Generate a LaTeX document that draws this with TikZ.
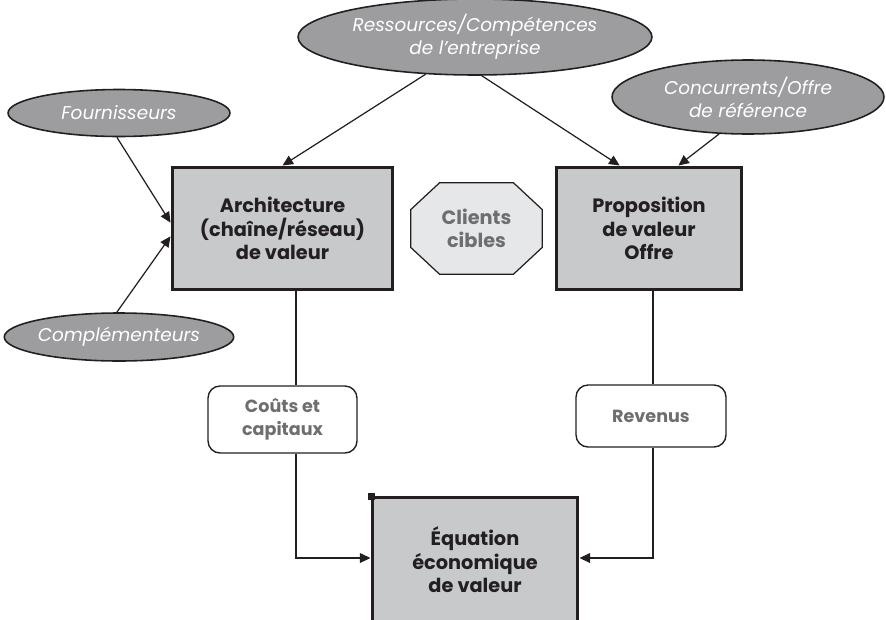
\documentclass[tikz,border=0pt]{standalone}
\usepackage{fontspec}
\setmainfont{Poppins}
\usetikzlibrary{arrows.meta,positioning,shapes.geometric,shapes.misc,calc}
\definecolor{ink}{RGB}{35,31,32}
\definecolor{boxgray}{RGB}{200,201,203}
\definecolor{ovalgray}{RGB}{157,157,159}
\definecolor{pale}{RGB}{230,231,232}
\definecolor{txtgray}{RGB}{109,110,112}
\tikzset{
  oval/.style={ellipse,draw=ink,line width=0.9pt,fill=ovalgray,text=white,
    font=\fontsize{10.5}{13}\selectfont\itshape,align=center,inner sep=0pt},
  block/.style={rectangle,draw=ink,line width=1.7pt,fill=boxgray,text=ink,
    font=\fontsize{11}{13.4}\selectfont\bfseries,align=center},
  flow/.style={rectangle,rounded corners=0.24cm,draw=ink,line width=0.8pt,fill=white,
    text=txtgray,font=\fontsize{10}{13.4}\selectfont\bfseries,align=center},
  link/.style={draw=ink,line width=0.7pt},
  arr/.style={link,-{Triangle[length=6pt,width=5.5pt]}}
}
\begin{document}
\begin{tikzpicture}[x=0.02cm,y=-0.02cm]
        \useasboundingbox (0,0) rectangle (886,619);
        % ellipses
        \node[oval,minimum width=7.08cm,minimum height=1.52cm] (ress) at (475,37) {Ressources/Compétences\\de l’entreprise};
        \node[oval,minimum width=4.44cm,minimum height=0.94cm] (fourn) at (119,113) {Fournisseurs};
        \node[oval,minimum width=4.44cm,minimum height=0.96cm] (compl) at (119,337) {Complémenteurs};
        \node[oval,minimum width=5.44cm,minimum height=1.48cm] (conc) at (748,97) {Concurrents/Offre\\de référence};
        % boxes
        \node[block,minimum width=4.42cm,minimum height=2.46cm] (archi) at (282.5,228.5) {Architecture\\(chaîne/réseau)\\de valeur};
        \node[block,minimum width=3.72cm,minimum height=2.46cm] (propo) at (649,228.5) {Proposition\\de valeur\\Offre};
        % octagon round the target clients
        \node[rectangle,minimum width=2.62cm,minimum height=1.82cm,inner sep=0pt] (clients) at (476.5,228.5) {};
        \draw[ink,line width=0.7pt,fill=pale] ($(clients.north west)+(29,0)$) -- ($(clients.north east)+(-29,0)$)
          -- ($(clients.north east)+(0,27)$) -- ($(clients.south east)+(0,-27)$)
          -- ($(clients.south east)+(-29,0)$) -- ($(clients.south west)+(29,0)$)
          -- ($(clients.south west)+(0,-27)$) -- ($(clients.north west)+(0,27)$) -- cycle;
        \node[text=txtgray,font=\fontsize{11}{13.4}\selectfont\bfseries,align=center] (clientstxt) at (clients) {Clients\\cibles};
        \node[flow,minimum width=2.98cm,minimum height=1.34cm] (couts) at (282.5,419.5) {Coûts et\\capitaux};
        \node[flow,minimum width=3.0cm,minimum height=1.24cm] (rev) at (651,416) {Revenus};
        \node[block,minimum width=4.12cm,minimum height=2.52cm] (equa) at (475,560) {Équation\\économique\\de valeur};
        \fill[ink] ($(equa.north west)+(-3,-3)$) rectangle ++(7,7);
        % arrows
        \draw[arr] (ress.217) -- (archi.north);
        \draw[arr] (ress.280) -- (propo.115);
        \draw[arr] (conc.232) -- (propo.65);
        \draw[arr] (fourn.265) -- (archi.177);
        \draw[arr] (compl.95) -- (archi.184);
        \coordinate (lx) at (296,0);
        \coordinate (rx) at (653,0);
        \draw[link] (archi.south -| lx) -- (couts.north -| lx);
        \draw[arr] (couts.south -| lx) |- ($(equa.west)+(0,-2)$);
        \draw[link] (propo.south -| rx) -- (rev.north -| rx);
        \draw[arr] (rev.south -| rx) |- ($(equa.east)+(0,-2)$);
\end{tikzpicture}
\end{document}
